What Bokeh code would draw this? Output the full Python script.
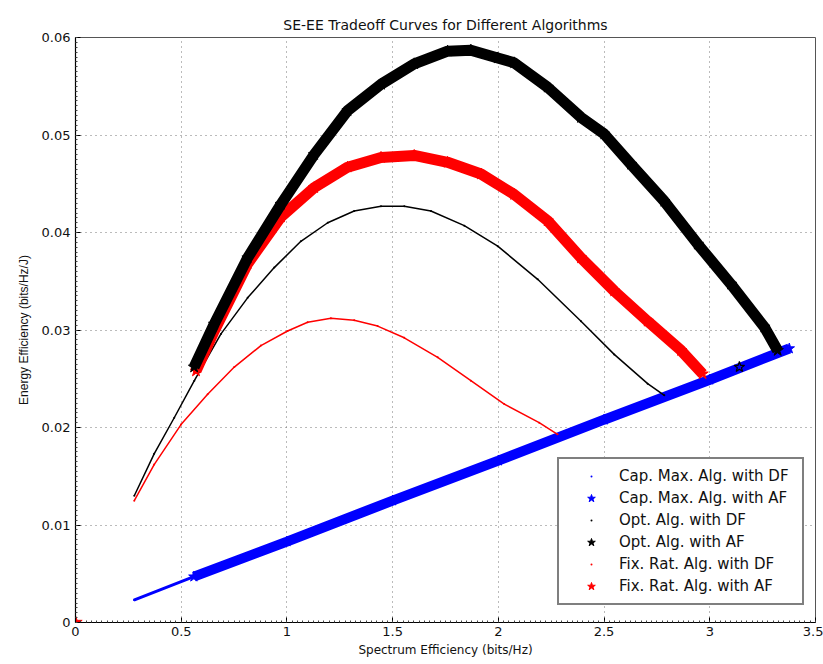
from bokeh.plotting import figure
from bokeh.models import Legend, LegendItem, FixedTicker, Range1d
from bokeh.embed import file_html
from bokeh.resources import INLINE

FONT_H = "DejaVu Sans"
FONT_V = "Liberation Sans"

# ---------------- data ----------------
x_ticks = [0, 0.5, 1, 1.5, 2, 2.5, 3, 3.5]
x_tick_labels = ["0", "0.5", "1", "1.5", "2", "2.5", "3", "3.5"]
y_ticks = [0, 0.01, 0.02, 0.03, 0.04, 0.05, 0.06]
y_tick_labels = ["0", "0.01", "0.02", "0.03", "0.04", "0.05", "0.06"]

# Cap. Max. Alg. with DF (thin blue)
cap_df_se = [0.276, 0.56, 1.0, 1.5, 2.0, 2.5, 3.0, 3.376]
cap_df_ee = [0.0023, 0.0047, 0.0083, 0.0125, 0.0166, 0.0208, 0.0249, 0.0281]
# Cap. Max. Alg. with AF (thick blue stars)
cap_af_se = [0.56, 1.0, 1.5, 2.0, 2.5, 3.0, 3.376]
cap_af_ee = [0.0047, 0.0083, 0.0125, 0.0166, 0.0208, 0.0249, 0.0281]

# Opt. Alg. with DF (thin black)
opt_df_se = [0.278, 0.372, 0.467, 0.562, 0.688, 0.814, 0.940, 1.066, 1.193, 1.318, 1.445,
             1.555, 1.681, 1.839, 1.997, 2.186, 2.391, 2.548, 2.706, 2.785]
opt_df_ee = [0.0130, 0.0173, 0.0210, 0.0248, 0.0296, 0.0333, 0.0364, 0.0391, 0.0410, 0.0422, 0.0427,
             0.0427, 0.0422, 0.0407, 0.0386, 0.0352, 0.0309, 0.0275, 0.0245, 0.0233]
# Opt. Alg. with AF (thick black stars)
opt_af_se = [0.561, 0.656, 0.814, 0.972, 1.129, 1.287, 1.445, 1.602, 1.760, 1.870, 1.997,
             2.075, 2.233, 2.391, 2.501, 2.627, 2.785, 2.943, 3.100, 3.258, 3.321]
opt_af_ee = [0.0262, 0.0306, 0.0374, 0.0429, 0.0480, 0.0525, 0.0552, 0.0573, 0.0586, 0.0587, 0.0579,
             0.0574, 0.0549, 0.0518, 0.0501, 0.0470, 0.0432, 0.0388, 0.0347, 0.0303, 0.0279]
opt_af_extra_se = [3.140]
opt_af_extra_ee = [0.0262]

# Fix. Rat. Alg. with DF (thin red)
fix_df_se = [0.278, 0.372, 0.499, 0.625, 0.751, 0.877, 1.003, 1.098, 1.208, 1.318, 1.429,
             1.555, 1.713, 1.870, 2.028, 2.193, 2.280]
fix_df_ee = [0.0125, 0.0162, 0.0203, 0.0234, 0.0262, 0.0284, 0.0299, 0.0308, 0.0312, 0.0310, 0.0304,
             0.0292, 0.0272, 0.0248, 0.0224, 0.0205, 0.0193]
# Fix. Rat. Alg. with AF (thick red stars)
fix_af_se = [0.570, 0.656, 0.814, 0.972, 1.129, 1.287, 1.445, 1.602, 1.760, 1.918,
             2.075, 2.233, 2.391, 2.548, 2.706, 2.864, 2.966]
fix_af_ee = [0.0258, 0.0299, 0.0368, 0.0416, 0.0446, 0.0467, 0.0477, 0.0479, 0.0472, 0.0460,
             0.0439, 0.0412, 0.0374, 0.0340, 0.0309, 0.0279, 0.0255]
origin_se = [0.0]
origin_ee = [0.0]

legend_labels = ["Cap. Max. Alg. with DF", "Cap. Max. Alg. with AF",
                 "Opt. Alg. with DF", "Opt. Alg. with AF",
                 "Fix. Rat. Alg. with DF", "Fix. Rat. Alg. with AF"]

BLUE, BLACK, RED = "#0000ff", "#000000", "#ff0000"

# ---------------- figure ----------------
p = figure(width=823, height=664, output_backend="svg", toolbar_location=None,
           x_range=Range1d(0, 3.5), y_range=Range1d(0, 0.06),
           min_border_left=75, min_border_right=8, min_border_top=37, min_border_bottom=42,
           background_fill_color="white", border_fill_color="white")

p.title.text = "SE-EE Tradeoff Curves for Different Algorithms"
p.title.align = "center"
p.title.text_font = FONT_H
p.title.text_font_size = "14px"
p.title.text_font_style = "normal"
p.title.text_color = "#111111"

p.outline_line_color = "#555555"
p.outline_line_width = 1

x_minor = [i * 0.025 for i in range(141)]
y_minor = [i * 0.0005 for i in range(121)]
p.xaxis.ticker = FixedTicker(ticks=x_ticks, minor_ticks=x_minor)
p.yaxis.ticker = FixedTicker(ticks=y_ticks, minor_ticks=y_minor)
p.xaxis.major_label_overrides = {t: l for t, l in zip(x_ticks, x_tick_labels)}
p.yaxis.major_label_overrides = {t: l for t, l in zip(y_ticks, y_tick_labels)}

for ax in (p.xaxis, p.yaxis):
    ax.axis_line_color = "black"
    ax.axis_line_width = 1.2
    ax.major_tick_in = 5
    ax.major_tick_out = 0
    ax.minor_tick_in = 2
    ax.minor_tick_out = 0
    ax.major_tick_line_color = "black"
    ax.minor_tick_line_color = "#444444"
    ax.major_label_text_font = FONT_H
    ax.major_label_text_font_size = "13px"
    ax.major_label_text_color = "#111111"
    ax.axis_label_text_font_style = "normal"
    ax.axis_label_text_color = "#111111"

p.xaxis.axis_label = "Spectrum Efficiency (bits/Hz)"
p.xaxis.axis_label_text_font = FONT_H
p.xaxis.axis_label_text_font_size = "12px"
p.yaxis.axis_label = "Energy Efficiency (bits/Hz/J)"
p.yaxis.axis_label_text_font = FONT_V
p.yaxis.axis_label_text_font_size = "12px"
p.xaxis.major_label_standoff = 4
p.xaxis.axis_label_standoff = 4
p.yaxis.major_label_standoff = 5
p.yaxis.axis_label_standoff = 8

p.xgrid.ticker = FixedTicker(ticks=x_ticks)
p.ygrid.ticker = FixedTicker(ticks=y_ticks)
for g in (p.xgrid, p.ygrid):
    g.grid_line_color = "#777777"
    g.grid_line_dash = "1 4"
    g.grid_line_width = 1

# ---------------- series ----------------
# blue
p.line(cap_df_se, cap_df_ee, color=BLUE, line_width=3)
cap_df_r = p.scatter(cap_df_se, cap_df_ee, marker="dot", size=8, color=BLUE)
p.line(cap_af_se, cap_af_ee, color=BLUE, line_width=10)
cap_af_r = p.scatter(cap_af_se, cap_af_ee, marker="star", size=11, color=BLUE)

# red thin
p.line(fix_df_se, fix_df_ee, color=RED, line_width=1.5)
fix_df_r = p.scatter(fix_df_se, fix_df_ee, marker="dot", size=8, color=RED)
# black thin
p.line(opt_df_se, opt_df_ee, color=BLACK, line_width=1.5)
opt_df_r = p.scatter(opt_df_se, opt_df_ee, marker="dot", size=8, color=BLACK)

# red thick
p.line(fix_af_se, fix_af_ee, color=RED, line_width=11)
fix_af_r = p.scatter(fix_af_se, fix_af_ee, marker="star", size=12, color=RED)
p.scatter(origin_se, origin_ee, marker="star", size=14, color=RED)

# black thick
p.line(opt_af_se, opt_af_ee, color=BLACK, line_width=11)
opt_af_r = p.scatter(opt_af_se, opt_af_ee, marker="star", size=12, color=BLACK)
p.scatter(opt_af_extra_se, opt_af_extra_ee, marker="star", size=11,
          fill_color=BLUE, line_color=BLACK, line_width=1.2)

# ---------------- legend ----------------
renderers = [cap_df_r, cap_af_r, opt_df_r, opt_af_r, fix_df_r, fix_af_r]
items = [LegendItem(label=l, renderers=[r]) for l, r in zip(legend_labels, renderers)]
legend = Legend(items=items, location=(482, 17), margin=0, padding=7,
                glyph_width=50, glyph_height=20, label_height=20, spacing=2,
                label_standoff=3, label_width=176,
                label_text_font=FONT_H, label_text_font_size="15px",
                label_text_color="#111111",
                border_line_color="black", border_line_width=2,
                background_fill_color="white", background_fill_alpha=1.0)
p.add_layout(legend, "center")

open("out.html", "w").write(file_html(p, INLINE))
